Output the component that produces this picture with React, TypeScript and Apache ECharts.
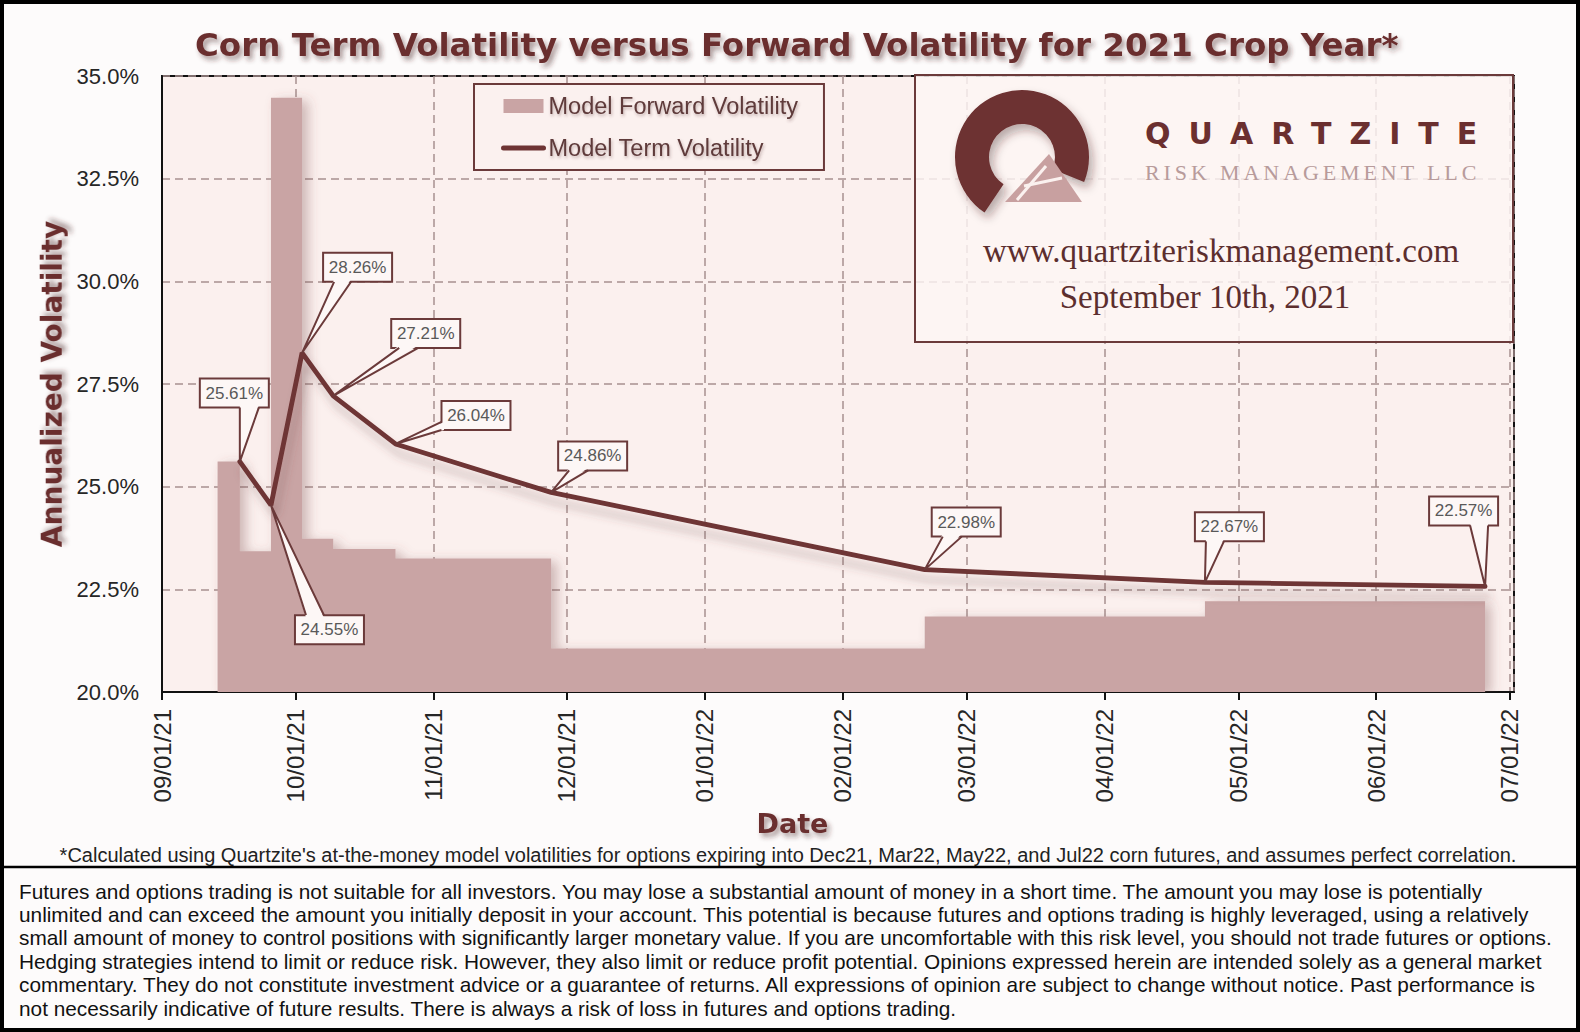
import React, { useEffect, useRef } from 'react';
import * as echarts from 'echarts';

const SANS = "'Liberation Sans', Arial, sans-serif";
const HEAVY = "'DejaVu Sans', 'Liberation Sans', sans-serif";
const SERIF = "'Liberation Serif', 'Times New Roman', serif";
const MAROON = '#6b2f2f';
const LINE = '#6e3434';
const BAR = '#c9a4a4';
const EDGE = '#6b3a3a';
const GRID = '#a89090';
const CALLOUT_FILL = '#fdf7f6';

const chartTitle = 'Corn Term Volatility versus Forward Volatility for 2021 Crop Year*';

// forward vol: each value holds from its date until the next date
const fwdDates = ['2021-09-13', '2021-09-18', '2021-09-25', '2021-10-02', '2021-10-09', '2021-10-23', '2021-11-27', '2022-02-19', '2022-04-23', '2022-06-25'];
const fwdVols = [25.61, 23.43, 34.47, 23.73, 23.48, 23.25, 21.06, 21.84, 22.21, 22.21];

const termDates = ['2021-09-18', '2021-09-25', '2021-10-02', '2021-10-09', '2021-10-23', '2021-11-27', '2022-02-19', '2022-04-23', '2022-06-25'];
const termVols = [25.61, 24.55, 28.26, 27.21, 26.04, 24.86, 22.98, 22.67, 22.57];

const yMin = 20;
const yMax = 35;
const yStep = 2.5;
const xStart = '2021-09-01';
const xEnd = '2022-07-02';

const footnote = "*Calculated using Quartzite's at-the-money model volatilities for options expiring into Dec21, Mar22, May22, and Jul22 corn futures, and assumes perfect correlation.";

const disclaimer = [
  'Futures and options trading is not suitable for all investors. You may lose a substantial amount of money in a short time. The amount you may lose is potentially',
  'unlimited and can exceed the amount you initially deposit in your account. This potential is because futures and options trading is highly leveraged, using a relatively',
  'small amount of money to control positions with significantly larger monetary value. If you are uncomfortable with this risk level, you should not trade futures or options.',
  'Hedging strategies intend to limit or reduce risk. However, they also limit or reduce profit potential. Opinions expressed herein are intended solely as a general market',
  'commentary. They do not constitute investment advice or a guarantee of returns. All expressions of opinion are subject to change without notice. Past performance is',
  'not necessarily indicative of future results. There is always a risk of loss in futures and options trading.',
];

// callout box offset from its point, in px, and where the pointer meets the box
const BOX_W = 69;
const BOX_H = 29;
const calloutBox = [[-40, -83], [24, 110], [21, -100], [58, -77], [46, -43], [7, -51], [7, -62], [-10, -70], [-56, -90]];
const calloutWedge: [number, number, string][] = [
  [0, 19, 'b'], [35, 53, 't'], [32, 49, 'b'], [66, 85, 'b'], [-22, -14, 'l'],
  [18, 37, 'b'], [18, 37, 'b'], [1, 19, 'b'], [-15, 3, 'b'],
];

// excel puts each day in the middle of its slot
const noon = (d: string) => new Date(d + 'T12:00:00').getTime();
const midnight = (d: string) => new Date(d + 'T00:00:00').getTime();
const DAY = 864e5;

const pad = (n: number) => String(n).padStart(2, '0');
const fmtDate = (v: number) => {
  const d = new Date(v);
  return `${pad(d.getMonth() + 1)}/${pad(d.getDate())}/${pad(d.getFullYear() % 100)}`;
};

const shadowText = {
  textShadowColor: 'rgba(70,35,35,0.45)',
  textShadowBlur: 5,
  textShadowOffsetX: 3,
  textShadowOffsetY: 4,
};

const Chart = () => {
  const chartRef = useRef<HTMLDivElement>(null);

  useEffect(() => {
    document.body.style.margin = '0';
    const chart = echarts.init(chartRef.current, null, { renderer: 'svg' });

    const renderCallout = (params: any, api: any) => {
      const i = params.dataIndex;
      const [px, py] = api.coord([api.value(0), api.value(1)]);
      const bx = px + calloutBox[i][0];
      const by = py + calloutBox[i][1];
      const [a, b, side] = calloutWedge[i];
      let p1, p2, q1, q2;
      if (side === 'l') {
        p1 = [bx, py + a]; p2 = [bx, py + b];
        q1 = [bx + 2.5, py + a]; q2 = [bx + 2.5, py + b];
      } else {
        const ey = side === 't' ? by : by + BOX_H;
        const s = side === 't' ? 2.5 : -2.5;
        p1 = [px + a, ey]; p2 = [px + b, ey];
        q1 = [px + a, ey + s]; q2 = [px + b, ey + s];
      }
      return {
        type: 'group',
        children: [
          { type: 'rect', shape: { x: bx, y: by, width: BOX_W, height: BOX_H }, style: { fill: CALLOUT_FILL, stroke: EDGE, lineWidth: 2 } },
          { type: 'polygon', shape: { points: [q1, [px, py], q2] }, style: { fill: CALLOUT_FILL } },
          { type: 'polyline', shape: { points: [p1, [px, py], p2] }, style: { stroke: EDGE, lineWidth: 2, fill: 'none' } },
          {
            type: 'text',
            style: {
              text: `${Number(api.value(1)).toFixed(2)}%`,
              x: bx + BOX_W / 2, y: by + BOX_H / 2,
              align: 'center', verticalAlign: 'middle',
              textAlign: 'center', textVerticalAlign: 'middle',
              fill: '#595959', fontSize: 17, fontFamily: SANS,
            },
          },
        ],
      };
    };

    const option = {
      animation: false,
      backgroundColor: '#fdfbfb',
      title: {
        text: chartTitle,
        left: 195,
        top: 28,
        padding: 0,
        textStyle: { fontSize: 32.5, fontWeight: 'bold', color: MAROON, fontFamily: HEAVY, ...shadowText },
      },
      legend: {
        orient: 'vertical',
        left: 474,
        top: 84,
        padding: [10, 26, 10, 27],
        itemWidth: 40,
        itemHeight: 14,
        itemGap: 18,
        backgroundColor: '#fbf1ef',
        borderColor: EDGE,
        borderWidth: 2,
        textStyle: { fontSize: 23.5, color: '#5e3a3a', fontFamily: SANS, textShadowColor: 'rgba(90,50,50,0.35)', textShadowBlur: 3, textShadowOffsetX: 1, textShadowOffsetY: 2 },
        data: [
          { name: 'Model Forward Volatility', icon: 'rect' },
          { name: 'Model Term Volatility', itemStyle: { opacity: 0 }, lineStyle: { width: 5, color: LINE, cap: 'round' } },
        ],
      },
      grid: {
        left: 162,
        top: 76,
        width: 1352,
        height: 616,
        show: true,
        backgroundColor: '#fbf0ee',
        borderColor: '#111',
        borderWidth: 2,
        outerBoundsMode: 'none',
      },
      xAxis: {
        type: 'time',
        min: midnight(xStart),
        max: midnight(xEnd),
        splitNumber: 10,
        minInterval: 28 * DAY,
        maxInterval: 31 * DAY,
        name: 'Date',
        nameLocation: 'middle',
        nameGap: 109,
        nameTextStyle: { fontSize: 27, fontWeight: 'bold', color: MAROON, fontFamily: HEAVY, padding: [0, 91, 0, 0], ...shadowText },
        axisLine: { show: true, lineStyle: { color: '#111', width: 2 } },
        axisTick: { show: true, length: 8, lineStyle: { color: '#111', width: 2 } },
        axisLabel: { rotate: 90, fontSize: 24, color: '#262626', margin: 17, fontFamily: SANS, formatter: fmtDate, showMinLabel: true, showMaxLabel: false },
        splitLine: { show: true, lineStyle: { color: GRID, type: [8, 5], width: 1.5 } },
      },
      yAxis: {
        type: 'value',
        min: yMin,
        max: yMax,
        interval: yStep,
        name: 'Annualized Volatility',
        nameLocation: 'middle',
        nameGap: 95,
        nameTextStyle: { fontSize: 28, fontWeight: 'bold', color: MAROON, fontFamily: HEAVY, ...shadowText },
        axisLine: { show: true, lineStyle: { color: '#111', width: 2 } },
        axisTick: { show: false },
        axisLabel: { fontSize: 22, color: '#262626', margin: 23, fontFamily: SANS, formatter: (v: number) => v.toFixed(1) + '%' },
        splitLine: { show: true, lineStyle: { color: GRID, type: [8, 5], width: 1.5 } },
      },
      series: [
        {
          name: 'Model Forward Volatility',
          type: 'line',
          step: 'end',
          symbol: 'none',
          z: 1,
          itemStyle: { color: BAR },
          lineStyle: { width: 0, color: BAR },
          areaStyle: { color: BAR, opacity: 1, origin: 'start', shadowColor: 'rgba(120,70,70,0.35)', shadowBlur: 12, shadowOffsetX: 6, shadowOffsetY: 3 },
          data: fwdDates.map((d, i) => [noon(d), fwdVols[i]]),
        },
        {
          name: 'Model Term Volatility',
          type: 'line',
          symbol: 'none',
          z: 3,
          itemStyle: { color: LINE },
          lineStyle: { width: 4.8, color: LINE, cap: 'round', shadowColor: 'rgba(100,60,60,0.3)', shadowBlur: 8, shadowOffsetX: 4, shadowOffsetY: 10 },
          data: termDates.map((d, i) => [noon(d), termVols[i]]),
        },
        {
          type: 'custom',
          z: 5,
          clip: false,
          encode: { x: 0, y: 1 },
          renderItem: renderCallout,
          data: termDates.map((d, i) => [noon(d), termVols[i]]),
        },
      ],
      graphic: [
        { type: 'rect', z: 20, shape: { x: 2, y: 2, width: 1576, height: 1028 }, style: { fill: 'none', stroke: '#000', lineWidth: 4 } },
        // logo panel
        { type: 'rect', z: 10, shape: { x: 915, y: 75, width: 598, height: 267 }, style: { fill: 'rgba(252,245,244,0.82)', stroke: EDGE, lineWidth: 2 } },
        {
          type: 'sector', z: 11,
          shape: { cx: 1022, cy: 157, r: 67, r0: 33, startAngle: (124 * Math.PI) / 180, endAngle: (382 * Math.PI) / 180, clockwise: true },
          style: { fill: '#6d3030', shadowColor: 'rgba(60,30,30,0.35)', shadowBlur: 10, shadowOffsetX: 4, shadowOffsetY: 6 },
        },
        { type: 'polygon', z: 12, shape: { points: [[1049, 154], [1005, 202], [1082, 202]] }, style: { fill: '#c8a0a0' } },
        { type: 'line', z: 13, shape: { x1: 1046, y1: 166, x2: 1017, y2: 200 }, style: { stroke: '#fbf1ef', lineWidth: 3 } },
        { type: 'line', z: 13, shape: { x1: 1024, y1: 186, x2: 1062, y2: 178 }, style: { stroke: '#fbf1ef', lineWidth: 3 } },
        {
          type: 'text', z: 12, x: 1145, y: 133,
          style: {
            text: 'QUARTZITE', fill: '#6b2f2f', fontSize: 30, fontWeight: 'bold', fontFamily: "'DejaVu Sans';letter-spacing:18px",
            align: 'left', verticalAlign: 'middle', textAlign: 'left', textVerticalAlign: 'middle',
            shadowColor: 'rgba(70,35,35,0.4)', shadowBlur: 6, shadowOffsetX: 3, shadowOffsetY: 5,
          },
        },
        {
          type: 'text', z: 12, x: 1145, y: 172,
          style: {
            text: 'RISK MANAGEMENT LLC', fill: '#b89b9b', fontSize: 22, fontFamily: "'Liberation Serif';letter-spacing:3.9px",
            align: 'left', verticalAlign: 'middle', textAlign: 'left', textVerticalAlign: 'middle',
          },
        },
        {
          type: 'text', z: 12, x: 1221, y: 251,
          style: {
            text: 'www.quartziteriskmanagement.com', fill: '#5c2e2e', fontSize: 33, fontFamily: SERIF,
            align: 'center', verticalAlign: 'middle', textAlign: 'center', textVerticalAlign: 'middle',
            shadowColor: 'rgba(70,35,35,0.4)', shadowBlur: 5, shadowOffsetX: 3, shadowOffsetY: 5,
          },
        },
        {
          type: 'text', z: 12, x: 1205, y: 297,
          style: {
            text: 'September 10th, 2021', fill: '#5c2e2e', fontSize: 33, fontFamily: SERIF,
            align: 'center', verticalAlign: 'middle', textAlign: 'center', textVerticalAlign: 'middle',
            shadowColor: 'rgba(70,35,35,0.4)', shadowBlur: 5, shadowOffsetX: 3, shadowOffsetY: 5,
          },
        },
        // footnote and disclaimer
        {
          type: 'text', z: 10, x: 788, y: 855,
          style: { text: footnote, fill: '#222', fontSize: 20, fontFamily: SANS, align: 'center', verticalAlign: 'middle', textAlign: 'center', textVerticalAlign: 'middle' },
        },
        { type: 'line', z: 10, shape: { x1: 0, y1: 867, x2: 1580, y2: 867 }, style: { stroke: '#000', lineWidth: 2.5 } },
        ...disclaimer.map((line, i) => ({
          type: 'text', z: 10, x: 19, y: 891 + i * 23.4,
          style: { text: line, fill: '#111', fontSize: 20.8, fontFamily: SANS, align: 'left', verticalAlign: 'middle', textAlign: 'left', textVerticalAlign: 'middle' },
        })),
      ],
    };

    chart.setOption(option as any);

    const handleResize = () => chart.resize();
    window.addEventListener('resize', handleResize);
    return () => {
      window.removeEventListener('resize', handleResize);
      chart.dispose();
    };
  }, []);

  return <div ref={chartRef} style={{ width: '1580px', height: '1032px' }} />;
};

export default function App() {
  return <Chart />;
}
